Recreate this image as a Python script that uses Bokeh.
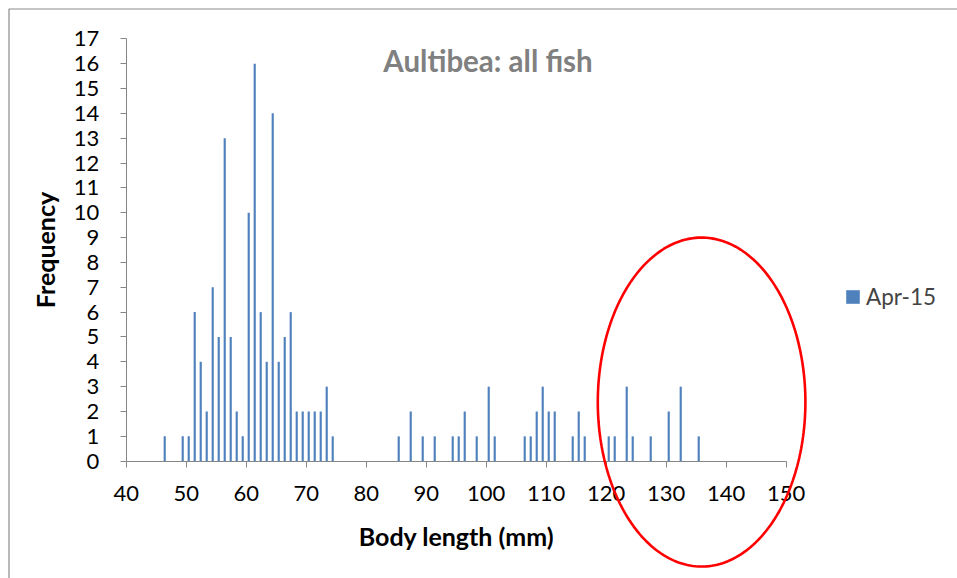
import numpy as np
from bokeh.plotting import figure
from bokeh.models import (Range1d, FixedTicker, Legend, LegendItem, Label,
                          PolyAnnotation, BoxAnnotation, ColumnDataSource)
from bokeh.transform import dodge
from bokeh.embed import file_html
from bokeh.resources import INLINE

# ---- data ----
lengths = [46, 49, 50, 51, 52, 53, 54, 55, 56, 57, 58, 59, 60, 61, 62, 63, 64,
           65, 66, 67, 68, 69, 70, 71, 72, 73, 74, 85, 87, 89, 91, 94, 95, 96,
           98, 100, 101, 106, 107, 108, 109, 110, 111, 114, 115, 116, 120, 121,
           123, 124, 127, 130, 132, 135]
counts = [1, 1, 1, 6, 4, 2, 7, 5, 13, 5, 2, 1, 10, 16, 6, 4, 14,
          4, 5, 6, 2, 2, 2, 2, 2, 3, 1, 1, 2, 1, 1, 1, 1, 2,
          1, 3, 1, 1, 1, 2, 3, 2, 2, 1, 2, 1, 1, 1,
          3, 1, 1, 2, 3, 1]
series_name = "Apr-15"
title_text = "Aultibea: all fish"
x_title = "Body length (mm)"
y_title = "Frequency"
x_ticks = [40, 50, 60, 70, 80, 90, 100, 110, 120, 130, 140, 150]
y_ticks = list(range(0, 18))
x_min, x_max = 40, 150
y_min, y_max = 0, 17

# highlight ellipse (data units)
ell_cx, ell_cy, ell_rx, ell_ry = 135.9, 2.38, 17.3, 6.62

FONT = "Lato"
W, H = 957, 578
# pixel placement of the plotting area inside the canvas
PX_LEFT, PX_RIGHT, PX_TOP, PX_BOTTOM = 125.7, 785.7, 38.3, 460.7
sx = (x_max - x_min) / (PX_RIGHT - PX_LEFT)
sy = (y_max - y_min) / (PX_BOTTOM - PX_TOP)
x_range = Range1d(x_min - PX_LEFT * sx, x_min + (W - PX_LEFT) * sx)
y_range = Range1d(y_min - (H - PX_BOTTOM) * sy, y_max + PX_TOP * sy)


def px_x(px):
    return x_range.start + px * sx


def px_y(py):
    return y_range.end - py * sy


p = figure(width=W, height=H, x_range=x_range, y_range=y_range,
           output_backend="svg", toolbar_location=None, min_border=0)
p.title.visible = False
p.outline_line_color = None
p.xgrid.visible = False
p.ygrid.visible = False
p.background_fill_color = "white"
p.border_fill_color = "white"

src = ColumnDataSource(dict(length=lengths, count=counts))
r = p.vbar(x=dodge("length", 0.42, range=p.x_range), top="count", width=0.36,
           source=src, fill_color="#4F81BD", line_color=None)

for ax in (p.xaxis[0], p.yaxis[0]):
    ax.axis_line_color = "#868686"
    ax.major_tick_line_color = "#868686"
    ax.minor_tick_line_color = None
    ax.major_tick_out = 6
    ax.major_tick_in = 0
    ax.major_label_text_font = FONT
    ax.major_label_text_font_size = "22px"
    ax.major_label_text_color = "black"
    ax.axis_label_text_font = FONT
    ax.axis_label_text_font_style = "bold"
    ax.axis_label_text_font_size = "25px"
    ax.axis_label_text_color = "black"

p.xaxis.ticker = FixedTicker(ticks=x_ticks)
p.yaxis.ticker = FixedTicker(ticks=y_ticks)
p.xaxis.bounds = (x_min, x_max)
p.yaxis.bounds = (y_min, y_max)
p.xaxis.fixed_location = y_min
p.yaxis.fixed_location = x_min
p.xaxis.axis_label = x_title
p.yaxis.axis_label = y_title
p.xaxis.major_label_standoff = 19
p.yaxis.major_label_standoff = 21
p.xaxis.axis_label_standoff = 16
p.yaxis.axis_label_standoff = 11

p.add_layout(Label(x=px_x(487.5), y=px_y(60), text=title_text, text_align="center",
                   text_baseline="alphabetic", text_font=FONT,
                   text_font_style="bold", text_font_size="29.5px",
                   text_color="#808080"))

legend = Legend(items=[LegendItem(label=series_name, renderers=[r])],
                location=(844, 268), border_line_color=None,
                background_fill_alpha=0, glyph_width=17, glyph_height=17,
                label_text_font=FONT, label_text_font_size="22.5px",
                padding=0, margin=0, spacing=0, label_standoff=5)
p.add_layout(legend)

t = np.linspace(0, 2 * np.pi, 240)
p.add_layout(PolyAnnotation(xs=list(ell_cx + ell_rx * np.cos(t)),
                            ys=list(ell_cy + ell_ry * np.sin(t)),
                            fill_alpha=0, line_color="#FF0000", line_alpha=1,
                            line_width=2.6))

p.add_layout(BoxAnnotation(left=px_x(8.5), right=px_x(W + 20),
                           top=px_y(8.5), bottom=px_y(H + 20),
                           fill_alpha=0, line_color="#8a8a8a", line_alpha=1,
                           line_width=1.2))

open("out.html", "w").write(file_html(p, INLINE))
